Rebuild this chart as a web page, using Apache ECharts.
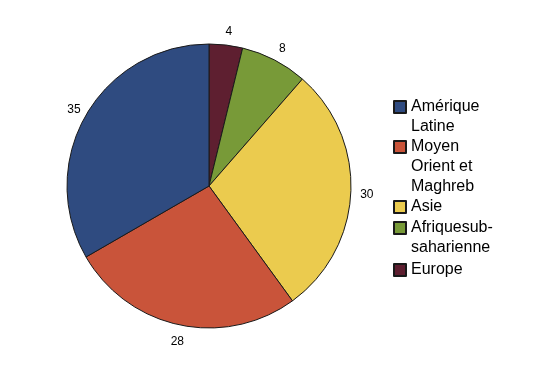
<!DOCTYPE html>
<html>
<head>
<meta charset="utf-8">
<script src="https://cdn.jsdelivr.net/npm/echarts@6/dist/echarts.min.js"></script>
<style>
  html, body { margin: 0; padding: 0; background: #fff; }
  #chart { width: 542px; height: 387px; }
</style>
</head>
<body>
<div id="chart"></div>
<script>
// Slices in clockwise order starting at 12 o'clock
const categories = ["Europe", "Afriquesub-saharienne", "Asie", "Moyen Orient et Maghreb", "Amérique Latine"];
const values = [4, 8, 30, 28, 35];
const colors = ["#5e1f30", "#789a38", "#ebcb4e", "#c9543a", "#2f4b80"];

// Legend order and wrapped labels
const legendOrder = ["Amérique Latine", "Moyen Orient et Maghreb", "Asie", "Afriquesub-saharienne", "Europe"];
const legendLabels = ["Amérique\nLatine", "Moyen\nOrient et\nMaghreb", "Asie", "Afriquesub-\nsaharienne", "Europe"];
const legendIconCenters = [107, 147, 207, 228, 270];

const FONT = "Liberation Sans, Arial, Helvetica, sans-serif";
const LINE_H = 20;

const data = categories.map((c, i) => ({ name: c, value: values[i], itemStyle: { color: colors[i] } }));

const legends = legendOrder.map((name, i) => {
  const lines = legendLabels[i].split("\n").length;
  // leading blank lines so that the first text line sits beside the icon
  const text = "\n".repeat(lines - 1) + legendLabels[i];
  const total = 2 * lines - 1;
  return {
    orient: "vertical",
    left: 393,
    top: legendIconCenters[i] - total * LINE_H / 2,
    padding: 0,
    itemWidth: 12,
    itemHeight: 12,
    itemGap: 0,
    icon: "rect",
    data: [name],
    selectedMode: false,
    formatter: () => text,
    textStyle: {
      fontFamily: FONT,
      fontSize: 16,
      color: "#000",
      lineHeight: LINE_H
    }
  };
});

const chart = echarts.init(document.getElementById("chart"), null, { renderer: "canvas" });
chart.setOption({
  backgroundColor: "#fff",
  animation: false,
  legend: legends,
  series: [
    {
      type: "pie",
      center: [209, 186],
      radius: [0, 142],
      startAngle: 90,
      clockwise: true,
      data: data,
      label: { show: false },
      labelLine: { show: false },
      itemStyle: { borderColor: "#1a1a1a", borderWidth: 1 },
      emphasis: { disabled: true }
    },
    {
      type: "pie",
      center: [210, 188],
      radius: [146, 162],
      startAngle: 90,
      clockwise: true,
      silent: true,
      data: categories.map((c, i) => ({ name: c, value: values[i] })),
      itemStyle: { color: "rgba(0,0,0,0)", borderWidth: 0 },
      label: {
        show: true,
        position: "inside",
        formatter: "{c}",
        fontFamily: FONT,
        fontSize: 12,
        color: "#000"
      },
      labelLine: { show: false },
      emphasis: { disabled: true }
    }
  ]
});
</script>
</body>
</html>
